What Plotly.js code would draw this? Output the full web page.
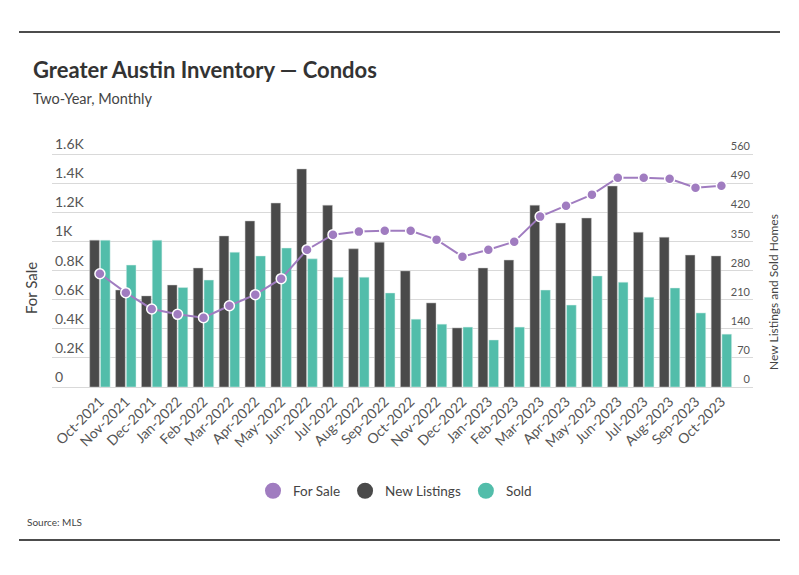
<!DOCTYPE html>
<html>
<head>
<meta charset="utf-8">
<script src="https://cdn.plot.ly/plotly-3.0.1.min.js"></script>
<style>html,body{margin:0;padding:0;background:#fff;}#chart{width:799px;height:575px;}</style>
</head>
<body>
<div id="chart"></div>
<script>
var months = ["Oct-2021","Nov-2021","Dec-2021","Jan-2022","Feb-2022","Mar-2022","Apr-2022","May-2022","Jun-2022","Jul-2022","Aug-2022","Sep-2022","Oct-2022","Nov-2022","Dec-2022","Jan-2023","Feb-2023","Mar-2023","Apr-2023","May-2023","Jun-2023","Jul-2023","Aug-2023","Sep-2023","Oct-2023"];
var forSale = [778,648,536,499,476,558,634,744,943,1046,1067,1073,1073,1012,895,943,998,1170,1245,1321,1437,1437,1430,1369,1382];
var newListings = [353,233,219,245,286,363,399,442,524,437,332,348,279,202,142,286,305,437,394,406,483,372,360,317,315];
var sold = [353,293,353,239,257,324,315,334,308,264,264,226,163,151,144,113,144,233,197,267,252,216,238,178,127];
var leftTickVals = [0,200,400,600,800,1000,1200,1400,1600];
var leftTickText = ["0","0.2K","0.4K","0.6K","0.8K","1K","1.2K","1.4K","1.6K"];
var rightTickVals = [0,70,140,210,280,350,420,490,560];

var cPurple = "#a07cc0", cDark = "#4a4a4a", cTeal = "#52bdaa";
var FONT = "Lato, 'Open Sans', sans-serif";

// plot area: top 128, bottom 387; grid top (1.6K / 560) at 154
var TOP = 128, H = 387 - TOP, GRID = 233;

var traces = [
  {type:"bar", name:"New Listings", x:months, y:newListings, yaxis:"y", marker:{color:cDark, line:{width:0.6, color:"rgba(200,200,200,0.8)"}}, showlegend:false},
  {type:"bar", name:"Sold", x:months, y:sold, yaxis:"y", marker:{color:cTeal, line:{width:0.6, color:"rgba(220,240,236,0.8)"}}, showlegend:false},
  {type:"scatter", mode:"lines+markers", name:"For Sale", x:months, y:forSale, yaxis:"y2", line:{color:cPurple, width:2}, marker:{color:cPurple, size:10, line:{color:"#ffffff", width:1.5}}, showlegend:false},
  {type:"scatter", mode:"markers", name:"For Sale", x:[null], y:[null], marker:{color:cPurple, size:16}, showlegend:true},
  {type:"scatter", mode:"markers", name:"New Listings", x:[null], y:[null], marker:{color:cDark, size:16}, showlegend:true},
  {type:"scatter", mode:"markers", name:"Sold", x:[null], y:[null], marker:{color:cTeal, size:16}, showlegend:true}
];

function py(pix){ return (387 - pix) / H; }
function px(pix){ return (pix - 52) / 701; }

var layout = {
  width:799, height:575,
  margin:{l:52, r:46, t:TOP, b:188},
  paper_bgcolor:"#fff", plot_bgcolor:"#fff",
  font:{family:FONT, color:"#555"},
  barmode:"group", bargap:0.17, bargroupgap:0.1,
  showlegend:true,
  legend:{orientation:"h", x:px(395), xanchor:"center", y:py(491), yanchor:"middle", font:{size:13.5, color:"#444"}, traceorder:"normal"},
  xaxis:{type:"category", range:[-1.85,25.22], tickangle:-45, tickfont:{size:14, color:"#555"}, showgrid:false, zeroline:false, showline:true, linecolor:"#d9d9d9", linewidth:1, ticks:"", fixedrange:true},
  yaxis:{side:"right", range:[0, 560*H/GRID], tickvals:rightTickVals, ticktext:rightTickVals.map(String), ticklabelposition:"inside top", tickfont:{size:11, color:"#555"}, showgrid:true, gridcolor:"#d9d9d9", gridwidth:1, zeroline:false, showline:false, ticks:""},
  yaxis2:{side:"left", overlaying:"y", range:[0, 1600*H/GRID], tickvals:leftTickVals, ticktext:leftTickText, ticklabelposition:"inside top", tickfont:{size:14, color:"#555"}, showgrid:false, zeroline:false, showline:false, ticks:""},
  annotations:[
    {text:"Greater Austin Inventory — Condos", xref:"paper", yref:"paper", x:px(31), y:py(69), xanchor:"left", yanchor:"middle", showarrow:false, font:{size:22, color:"#333", family:FONT, weight:700}},
    {text:"Two-Year, Monthly", xref:"paper", yref:"paper", x:px(31), y:py(98), xanchor:"left", yanchor:"middle", showarrow:false, font:{size:14.5, color:"#444", family:FONT}},
    {text:"For Sale", xref:"paper", yref:"paper", x:px(31), y:py(288), xanchor:"center", yanchor:"middle", textangle:-90, showarrow:false, font:{size:15, color:"#444", family:FONT}},
    {text:"New Listings and Sold Homes", xref:"paper", yref:"paper", x:px(773), y:py(292), xanchor:"center", yanchor:"middle", textangle:-90, showarrow:false, font:{size:12, color:"#444", family:FONT}},
    {text:"Source: MLS", xref:"paper", yref:"paper", x:px(25), y:py(522), xanchor:"left", yanchor:"middle", showarrow:false, font:{size:10, color:"#444", family:FONT}}
  ],
  shapes:[
    {type:"line", xref:"paper", yref:"paper", x0:px(19), x1:px(780), y0:py(32), y1:py(32), line:{color:"#111", width:1.5}},
    {type:"line", xref:"paper", yref:"paper", x0:px(19), x1:px(780), y0:py(540), y1:py(540), line:{color:"#111", width:1.5}}
  ]
};

Plotly.newPlot("chart", traces, layout, {displayModeBar:false, staticPlot:true});
</script>
</body>
</html>
